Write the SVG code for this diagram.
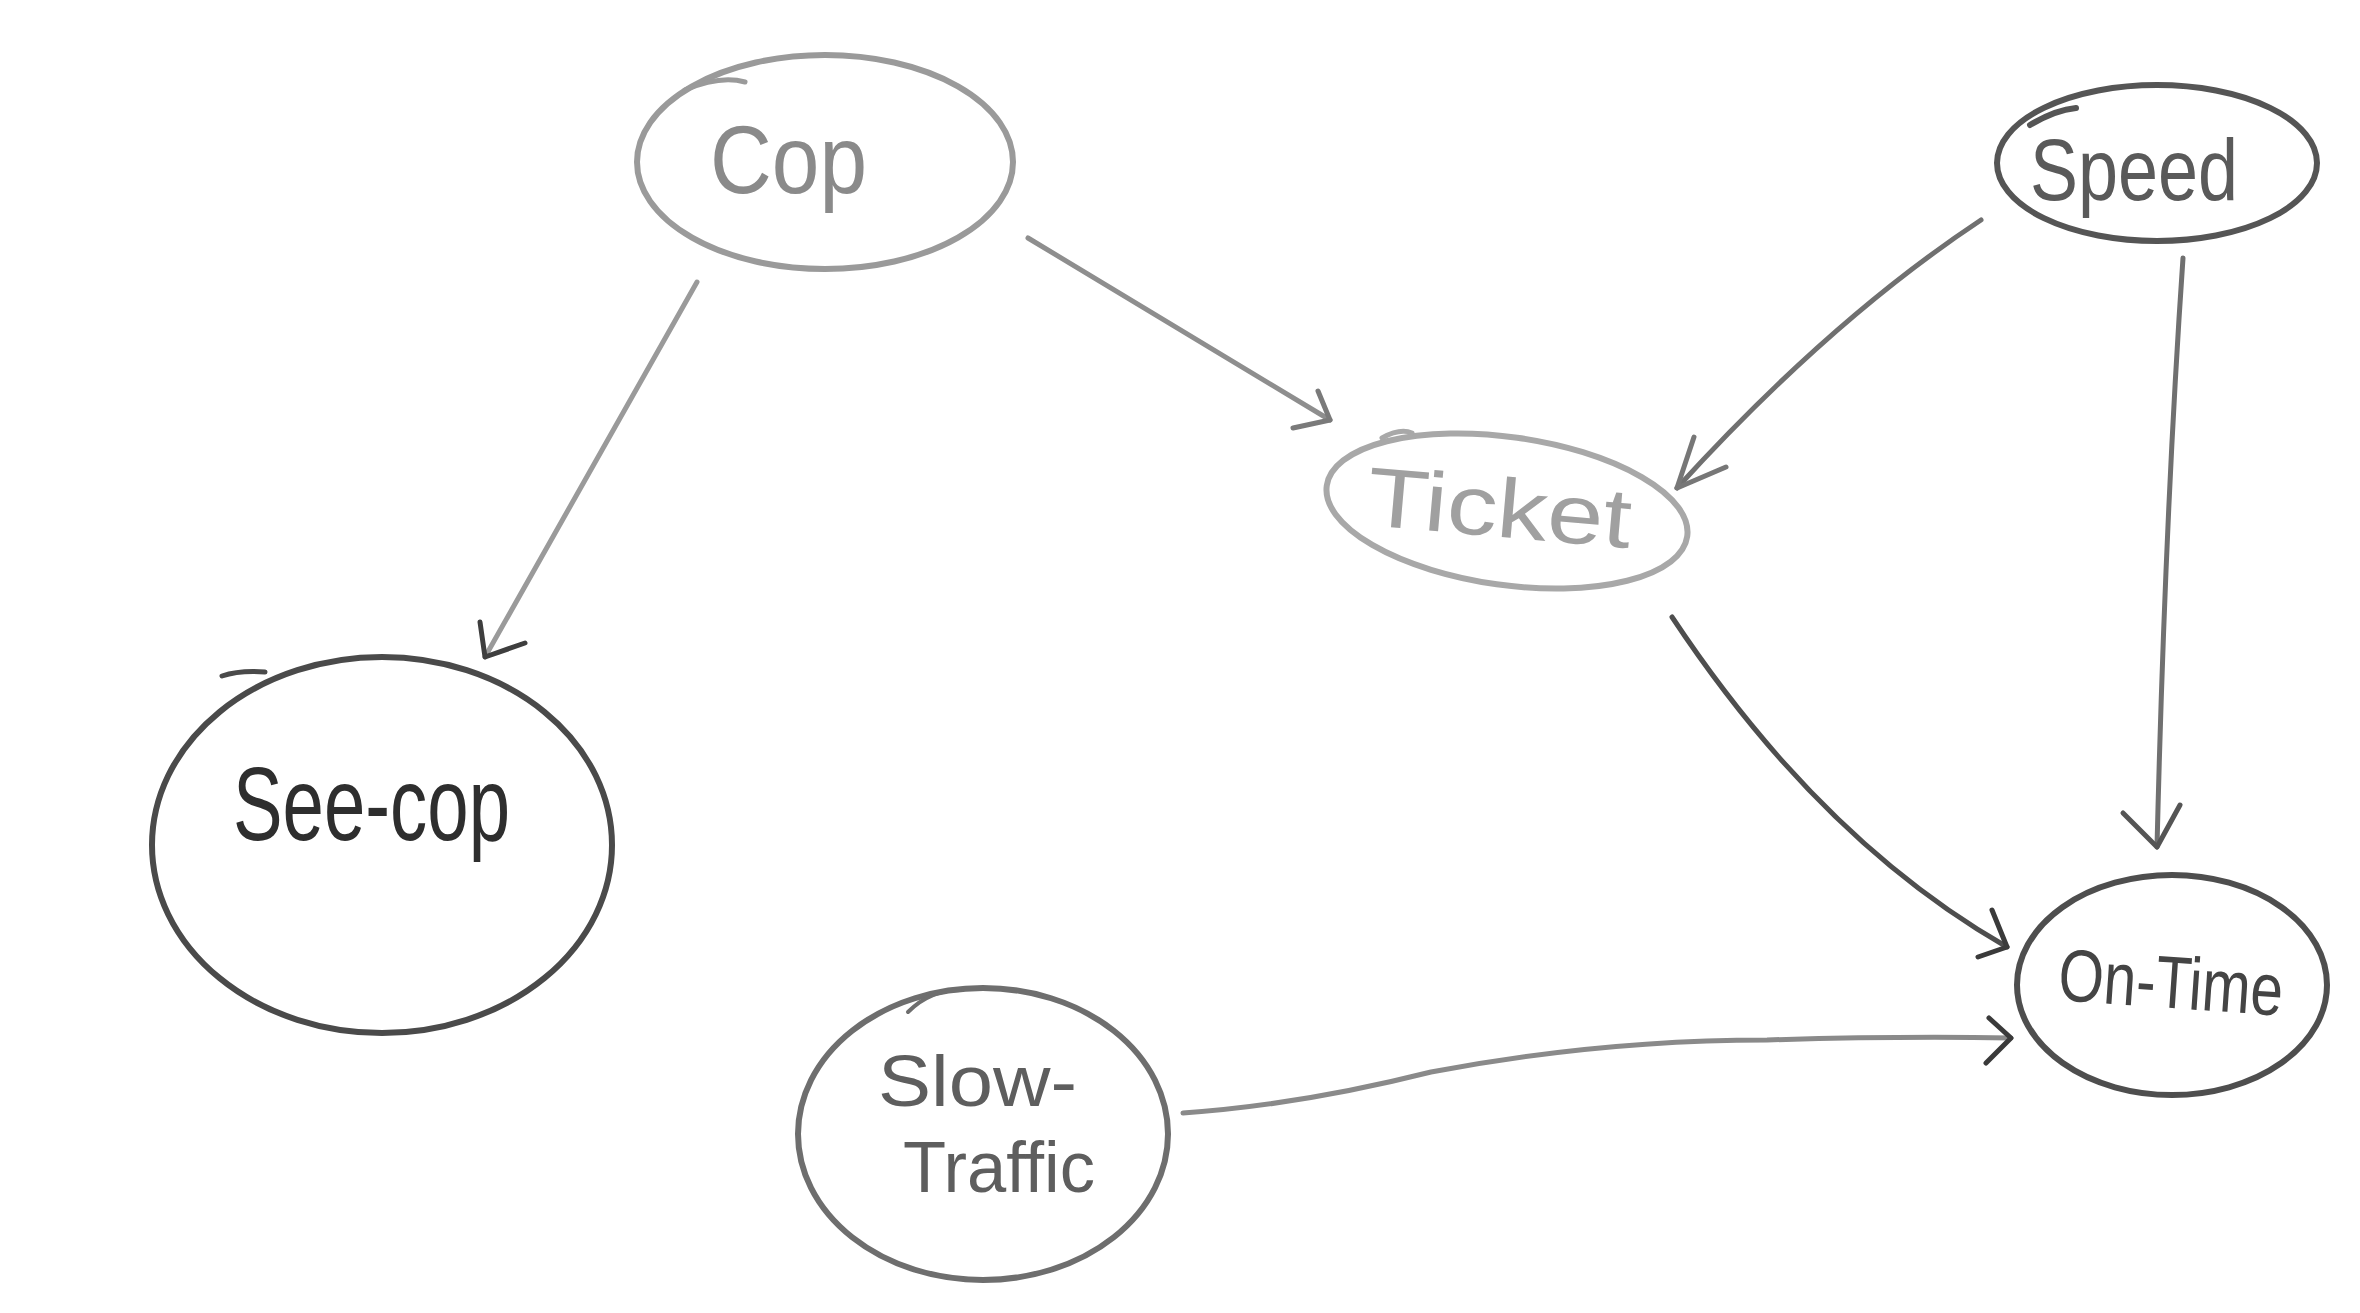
<svg xmlns="http://www.w3.org/2000/svg" width="2360" height="1313" viewBox="0 0 2360 1313">
<style>
.n{fill:none;stroke-linecap:round;stroke-linejoin:round}
.e{fill:none;stroke-linecap:round;stroke-linejoin:round;stroke-width:5}
.t{font-family:"Liberation Sans","Open Sans",sans-serif;font-weight:400}
</style>
<rect width="2360" height="1313" fill="#ffffff"/>
<g id="node-cop">
<ellipse class="n" cx="825" cy="162" rx="188" ry="107" stroke="#9a9a9a" stroke-width="6"/>
<path class="n" d="M685 90 Q720 75 745 82" stroke="#9a9a9a" stroke-width="5"/>
<text class="t" x="710" y="193" font-size="96" fill="#8a8a8a" textLength="157" lengthAdjust="spacingAndGlyphs">Cop</text>
</g>
<g id="node-speed">
<ellipse class="n" cx="2157" cy="163" rx="160" ry="78" stroke="#555" stroke-width="6"/>
<path class="n" d="M2030 125 Q2055 110 2076 108" stroke="#555" stroke-width="6"/>
<text class="t" x="2030" y="200" font-size="88" fill="#5a5a5a" textLength="208" lengthAdjust="spacingAndGlyphs">Speed</text>
</g>
<g id="node-ticket">
<ellipse class="n" cx="1507" cy="511" rx="182" ry="74" transform="rotate(8 1507 511)" stroke="#a8a8a8" stroke-width="6"/>
<path class="n" d="M1382 438 Q1400 428 1412 433" stroke="#a8a8a8" stroke-width="5"/>
<text class="t" x="1365" y="525" font-size="84" fill="#a0a0a0" textLength="265" lengthAdjust="spacingAndGlyphs" transform="rotate(5 1365 525)">Ticket</text>
</g>
<g id="node-see-cop">
<ellipse class="n" cx="382" cy="845" rx="230" ry="188" stroke="#4a4a4a" stroke-width="6"/>
<path class="n" d="M222 676 Q240 670 265 672" stroke="#4a4a4a" stroke-width="5"/>
<text class="t" x="233" y="840" font-size="104" fill="#2e2e2e" textLength="277" lengthAdjust="spacingAndGlyphs">See-cop</text>
</g>
<g id="node-slow-traffic">
<ellipse class="n" cx="983" cy="1134" rx="185" ry="146" stroke="#6e6e6e" stroke-width="6"/>
<path class="n" d="M908 1012 Q930 990 960 990" stroke="#6e6e6e" stroke-width="4"/>
<text class="t" x="878" y="1106" font-size="72" fill="#5e5e5e" textLength="199" lengthAdjust="spacingAndGlyphs">Slow-</text>
<text class="t" x="903" y="1192" font-size="72" fill="#5e5e5e" textLength="192" lengthAdjust="spacingAndGlyphs">Traffic</text>
</g>
<g id="node-on-time">
<ellipse class="n" cx="2172" cy="985" rx="155" ry="110" stroke="#4e4e4e" stroke-width="6"/>
<text class="t" x="2057" y="1000" font-size="74" fill="#444" textLength="225" lengthAdjust="spacingAndGlyphs" transform="rotate(4 2057 1000)">On-Time</text>
</g>
<g id="connectors">
<path class="e" d="M697 282 L485 657" stroke="#9a9a9a"/>
<path class="e" d="M480 622 L485 657 L525 643" stroke="#3e3e3e" stroke-width="7"/>
<path class="e" d="M1028 238 L1330 420" stroke="#8e8e8e"/>
<path class="e" d="M1318 391 L1330 420 L1293 428" stroke="#7a7a7a"/>
<path class="e" d="M1981 220 Q1830 320 1677 488" stroke="#707070"/>
<path class="e" d="M1694 437 L1677 488 L1726 467" stroke="#777"/>
<path class="e" d="M2183 258 Q2165 520 2157 847" stroke="#707070"/>
<path class="e" d="M2123 813 L2157 847 L2180 805" stroke="#555" stroke-width="6"/>
<path class="e" d="M1672 617 Q1820 840 2007 947" stroke="#4e4e4e" stroke-width="6"/>
<path class="e" d="M1992 910 L2007 947 L1978 957" stroke="#3a3a3a" stroke-width="7"/>
<path class="e" d="M1183 1113 Q1300 1105 1431 1072 Q1600 1040 1767 1040 Q1900 1036 2011 1038" stroke="#8a8a8a" stroke-width="6"/>
<path class="e" d="M1989 1018 L2011 1038 L1986 1063" stroke="#3a3a3a" stroke-width="7"/>
</g>
</svg>
